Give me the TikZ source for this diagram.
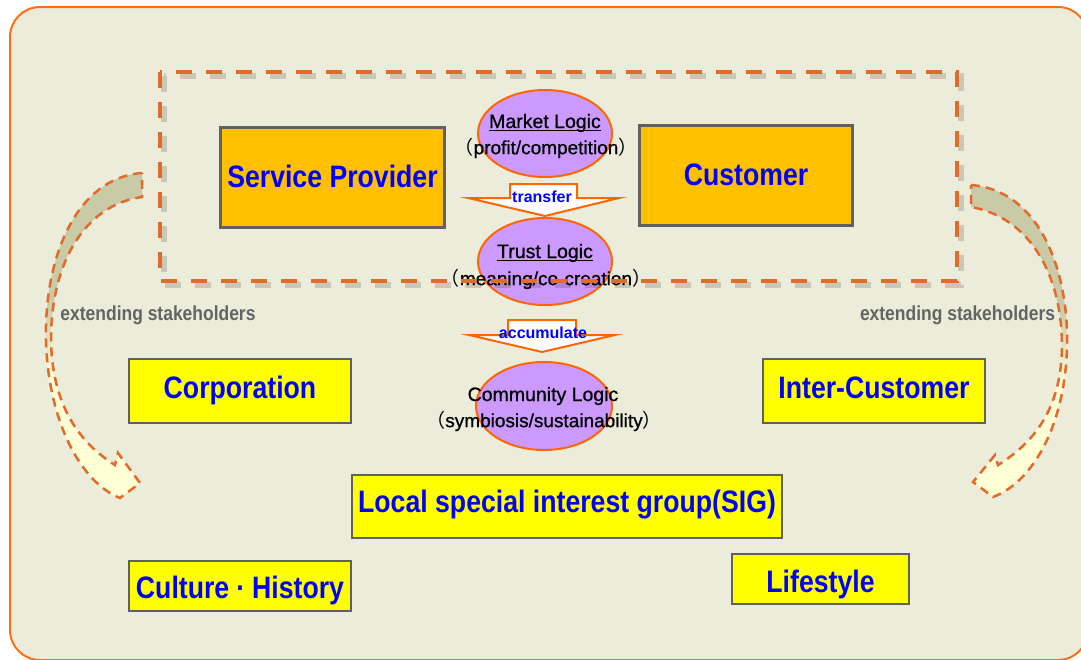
\documentclass[tikz,border=0pt]{standalone}
\usepackage{fontspec}
\setmainfont{Liberation Sans}
\newfontfamily\cond{Liberation Sans}[FakeStretch=0.86]
\newfontfamily\semib{Liberation Sans}[FakeBold=0.8]
\newfontfamily\cjk{Noto Sans CJK SC}
\usetikzlibrary{shapes.geometric,calc}
\definecolor{bgc}{RGB}{235,236,217}
\definecolor{frameor}{RGB}{255,110,20}
\definecolor{dashor}{RGB}{226,106,42}
\definecolor{ellfill}{RGB}{204,153,255}
\definecolor{ellline}{RGB}{255,102,0}
\definecolor{orbox}{RGB}{255,192,0}
\definecolor{boxline}{RGB}{96,96,96}
\definecolor{ylw}{RGB}{255,255,0}
\definecolor{txtblue}{RGB}{0,0,255}
\definecolor{olv}{RGB}{201,202,166}
\definecolor{paley}{RGB}{255,255,214}
\definecolor{greytxt}{RGB}{100,100,100}
\newcommand\myul[1]{\setbox0\hbox{#1}\rlap{\rule[-3pt]{\wd0}{1.4pt}}\box0}
\begin{document}
\begin{tikzpicture}[x=1pt,y=-1pt,
 orangebox/.style={draw=boxline,line width=3pt,fill=orbox,inner sep=0pt},
 ylwbox/.style={draw=boxline,line width=2.5pt,fill=ylw,inner sep=0pt},
 boxtext/.style={text=txtblue,font=\cond\bfseries\fontsize{31}{31}\selectfont},
 logic/.style={ellipse,draw=ellline,line width=2pt,fill=ellfill,inner sep=0pt,minimum width=134pt,minimum height=87pt},
 logictitle/.style={font=\semib\fontsize{19.5}{19.5}\selectfont,text=black,inner sep=0pt},
 logicsub/.style={font=\semib\fontsize{19}{19}\selectfont,text=black,inner sep=0pt},
 blockarr/.style={draw=ellline,line width=2pt,fill=white,line join=miter},
 arrlabel/.style={font=\bfseries\fontsize{16}{16}\selectfont,text=txtblue,inner sep=0pt},
 curvearr/.style={draw=dashor,line width=2.5pt,dash pattern=on 9pt off 6pt},
 sidelabel/.style={font=\cond\bfseries\fontsize{20.3}{20.3}\selectfont,text=greytxt,inner sep=0pt},
 dashbox/.style={draw=dashor,line width=4pt,dash pattern=on 16pt off 14pt},
 dashshadow/.style={draw=black,opacity=0.15,line width=6pt,dash pattern=on 16pt off 14pt},
]
\useasboundingbox (0,0) rectangle (1081,659);
\fill[white] (0,0) rectangle (1081,659);
\draw[draw=frameor,fill=bgc,line width=2pt,rounded corners=30pt] (10,7) rectangle (1088,660);

% curved arrows
\begin{scope}
\clip (142,173) .. controls (75,178) and (44,260) .. (46,340) .. controls (48,420) and (80,482) .. (120,498) -- (140,483) -- (118,453) -- (115,465) .. controls (75,440) and (52,400) .. (51,340) .. controls (51,262) and (85,205) .. (142,197) -- cycle;
\fill[olv] (0,150) rectangle (200,300);
\shade[top color=olv,bottom color=paley] (0,300) rectangle (200,380);
\fill[paley] (0,380) rectangle (200,520);
\end{scope}
\path[curvearr] (142,173) .. controls (75,178) and (44,260) .. (46,340) .. controls (48,420) and (80,482) .. (120,498) -- (140,483) -- (118,453) -- (115,465) .. controls (75,440) and (52,400) .. (51,340) .. controls (51,262) and (85,205) .. (142,197) -- cycle;

\begin{scope}
\clip (971,185) .. controls (1038,190) and (1069,268) .. (1067,347) .. controls (1065,425) and (1033,482) .. (993,497) -- (973,482) -- (995,455) -- (998,465) .. controls (1038,440) and (1061,405) .. (1062,347) .. controls (1062,272) and (1028,217) .. (971,207) -- cycle;
\fill[olv] (900,150) rectangle (1081,305);
\shade[top color=olv,bottom color=paley] (900,305) rectangle (1081,385);
\fill[paley] (900,385) rectangle (1081,520);
\end{scope}
\path[curvearr] (971,185) .. controls (1038,190) and (1069,268) .. (1067,347) .. controls (1065,425) and (1033,482) .. (993,497) -- (973,482) -- (995,455) -- (998,465) .. controls (1038,440) and (1061,405) .. (1062,347) .. controls (1062,272) and (1028,217) .. (971,207) -- cycle;

\node[sidelabel] (extl) at (158,315) {extending stakeholders};
\node[sidelabel] (extr) at (957.5,315) {extending stakeholders};

% logic ellipses
\node[logic] (ml) at (545,133.5) {};
\node[logic] (tl) at (545,261.5) {};
\node[logic,minimum width=136pt,minimum height=88pt] (cl) at (544,406) {};

% block arrows
\path[blockarr,shift={(tl.north)}] (-35,-33) -- (32,-33) -- (32,-19) -- (74,-19) -- (0,-1) -- (-77,-19) -- (-35,-19) -- cycle;
\path[blockarr,shift={(cl.north)}] (-36,-41) -- (32,-41) -- (32,-26) -- (71,-26) -- (-2,-9) -- (-75,-26) -- (-36,-26) -- cycle;
\node[arrlabel] (trl) at (542,197) {transfer};
\node[arrlabel] (acl) at (543,333) {accumulate};

\node[logictitle] (mlt) at (545,123) {\myul{Market Logic}};
\node[logicsub] (mlp) at (546,148) {{\cjk （}profit/competition{\cjk ）}};
\node[logictitle] (tlt) at (545,253) {\myul{Trust Logic}};
\node[logicsub] (tlp) at (546,279) {{\cjk （}meaning/co-creation{\cjk ）}};
\node[logictitle] (clt) at (543,396) {Community Logic};
\node[logicsub] (clp) at (544,421) {{\cjk （}symbiosis/sustainability{\cjk ）}};

% dashed frame
\draw[dashshadow] (164,76) rectangle (961,285);
\draw[dashbox] (160,72) rectangle (957,281);

% boxes
\node[orangebox,minimum width=224pt,minimum height=100pt,boxtext,text height=22pt,text depth=3pt] (sp) at (332.5,177.5) {Service Provider};
\node[orangebox,minimum width=213pt,minimum height=100pt,boxtext,text height=22pt,text depth=3pt] (cu) at (746,175.5) {Customer};
\node[ylwbox,minimum width=222pt,minimum height=64pt,boxtext,text height=22pt,text depth=8pt] (corp) at (240,391) {Corporation};
\node[ylwbox,minimum width=222pt,minimum height=64pt,boxtext,text height=22pt,text depth=8pt] (ic) at (874,391) {Inter-Customer};
\node[ylwbox,minimum width=430pt,minimum height=63pt,boxtext,text height=22pt,text depth=11pt] (sig) at (567,506.5) {Local special interest group(SIG)};
\node[ylwbox,minimum width=222pt,minimum height=50pt,boxtext,text height=24pt,text depth=0pt] (ch) at (240,586) {Culture\hspace{7pt}·\hspace{7pt}History};
\node[ylwbox,minimum width=177pt,minimum height=50pt,boxtext,text height=26pt,text depth=0pt] (ls) at (820.5,579) {Lifestyle};
\end{tikzpicture}
\end{document}
